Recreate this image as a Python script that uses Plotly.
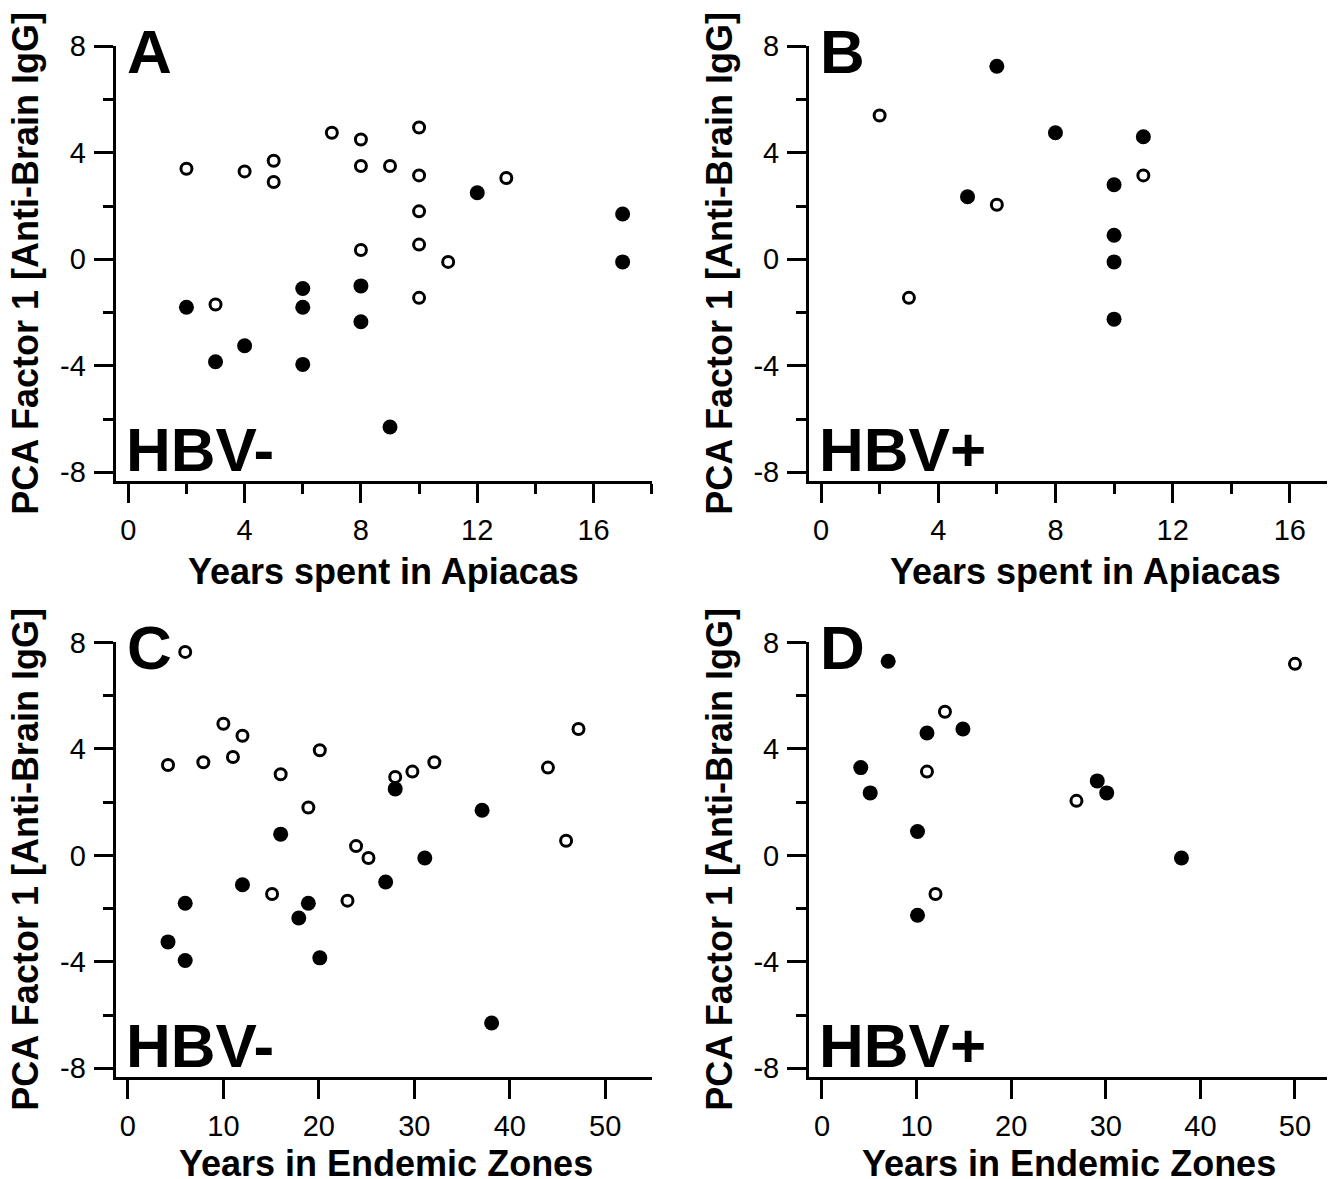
import plotly.graph_objects as go

# The page puts the figure 8 px in from the top-left corner (default body margin),
# so the figure is sized to end exactly at the window edge.
WIN_W, WIN_H = 1335, 1179
OFF = 8
W, H = WIN_W - OFF, WIN_H - OFF

# ---------------- data ----------------
# Panel A: HBV-, Years spent in Apiacas
a_open_x = [2, 4, 5, 5, 7, 8, 8, 9, 10, 10, 13, 10, 8, 10, 11, 10, 3]
a_open_y = [3.4, 3.3, 3.7, 2.9, 4.75, 4.5, 3.5, 3.5, 4.95, 3.15, 3.05, 1.8, 0.35, 0.55, -0.1, -1.45, -1.7]
a_fill_x = [2, 3, 4, 6, 6, 6, 8, 8, 9, 12, 17, 17]
a_fill_y = [-1.8, -3.85, -3.25, -1.1, -1.8, -3.95, -1.0, -2.35, -6.3, 2.5, 1.7, -0.1]

# Panel B: HBV+, Years spent in Apiacas
b_open_x = [2, 3, 6, 11]
b_open_y = [5.4, -1.45, 2.05, 3.15]
b_fill_x = [6, 5, 8, 11, 10, 10, 10, 10]
b_fill_y = [7.25, 2.35, 4.75, 4.6, 2.8, 0.9, -0.1, -2.25]

# Panel C: HBV-, Years in Endemic Zones
c_open_x = [6, 4.2, 7.9, 10, 12, 11, 20.1, 16, 18.9, 28, 29.8, 32.1, 44, 47.2, 45.9, 23.9, 25.2, 15.1, 23]
c_open_y = [7.65, 3.4, 3.5, 4.95, 4.5, 3.7, 3.95, 3.05, 1.8, 2.95, 3.15, 3.5, 3.3, 4.75, 0.55, 0.35, -0.1, -1.45, -1.7]
c_fill_x = [28, 37.1, 16, 31.1, 27, 12, 6, 18.9, 17.9, 4.2, 6, 20.1, 38.1]
c_fill_y = [2.5, 1.7, 0.8, -0.1, -1.0, -1.1, -1.8, -1.8, -2.35, -3.25, -3.95, -3.85, -6.3]

# Panel D: HBV+, Years in Endemic Zones
d_open_x = [13, 11.1, 12, 26.9, 50]
d_open_y = [5.4, 3.15, -1.45, 2.05, 7.2]
d_fill_x = [7, 11.1, 14.9, 4.1, 5.1, 10.1, 10.1, 29.1, 30.1, 38]
d_fill_y = [7.3, 4.6, 4.75, 3.3, 2.35, 0.9, -2.25, 2.8, 2.35, -0.1]

panel_letters = ["A", "B", "C", "D"]
panel_groups = ["HBV-", "HBV+", "HBV-", "HBV+"]
x_titles = ["Years spent in Apiacas", "Years spent in Apiacas",
            "Years in Endemic Zones", "Years in Endemic Zones"]
y_title = "PCA Factor 1 [Anti-Brain IgG]"
y_ticks = [-8, -4, 0, 4, 8]

# ---------------- layout helpers (screen pixels -> paper) ----------------
def px(x):
    return (x - OFF) / W

def py(y):
    return 1 - (y - OFF) / H

FONT = "Liberation Sans, Arial, Helvetica, sans-serif"

# pixel boxes on screen: (left, right, top, bottom) and axis ranges
panels = [
    dict(box=(115.7, 652, 46, 481.3), xr=[-0.433, 18.01], dtick=4, minor=2, title_dy=90),
    dict(box=(809, 1335, 46, 481.3), xr=[-0.41, 17.54], dtick=4, minor=2, title_dy=90),
    dict(box=(115.7, 652, 642.3, 1077.3), xr=[-1.28, 54.9], dtick=10, minor=None, title_dy=86),
    dict(box=(809, 1335, 642.3, 1077.3), xr=[-1.37, 54.23], dtick=10, minor=None, title_dy=86),
]
yr = [-8.34, 8.01]

data_sets = [
    (a_open_x, a_open_y, a_fill_x, a_fill_y),
    (b_open_x, b_open_y, b_fill_x, b_fill_y),
    (c_open_x, c_open_y, c_fill_x, c_fill_y),
    (d_open_x, d_open_y, d_fill_x, d_fill_y),
]

fig = go.Figure()
layout = dict(
    template="none",
    width=W, height=H, autosize=False,
    margin=dict(l=0, r=0, t=0, b=0, pad=0),
    paper_bgcolor="white", plot_bgcolor="white",
    showlegend=False,
    font=dict(family=FONT, color="black"),
)
annotations = []

for i, (p, ds) in enumerate(zip(panels, data_sets)):
    n = "" if i == 0 else str(i + 1)
    xa, ya = "x" + n, "y" + n
    l, r, t, b = p["box"]
    axis_common = dict(
        showline=True, linewidth=3, linecolor="black",
        ticks="outside", ticklen=19, tickwidth=3, tickcolor="black",
        showgrid=False, zeroline=False, fixedrange=True, automargin=False,
        tickfont=dict(family=FONT, size=29, color="black"),
    )
    xaxis = dict(axis_common, domain=[px(l), min(1.0, px(r))], range=p["xr"], anchor=ya,
                 tickmode="linear", tick0=0, dtick=p["dtick"], ticklabelstandoff=2)
    if p["minor"]:
        xaxis["minor"] = dict(dtick=p["minor"], tick0=0, ticks="outside", ticklen=10,
                              tickwidth=3, tickcolor="black", showgrid=False)
    yaxis = dict(axis_common, domain=[py(b), py(t)], range=yr, anchor=xa,
                 tickmode="array", tickvals=y_ticks, ticktext=[str(v) for v in y_ticks],
                 ticklabelstandoff=2,
                 minor=dict(dtick=2, tick0=0, ticks="outside", ticklen=10,
                            tickwidth=3, tickcolor="black", showgrid=False))
    layout["xaxis" + n] = xaxis
    layout["yaxis" + n] = yaxis

    ox, oy, fx, fy = ds
    fig.add_trace(go.Scatter(x=ox, y=oy, mode="markers", xaxis=xa, yaxis=ya,
                             marker=dict(symbol="circle-open", size=11, color="black",
                                         line=dict(width=3, color="black")),
                             cliponaxis=False, hoverinfo="x+y"))
    fig.add_trace(go.Scatter(x=fx, y=fy, mode="markers", xaxis=xa, yaxis=ya,
                             marker=dict(symbol="circle", size=15, color="black",
                                         line=dict(width=0)),
                             cliponaxis=False, hoverinfo="x+y"))

    # panel letter and group label
    annotations.append(dict(text="<b>%s</b>" % panel_letters[i], xref="paper", yref="paper",
                            x=px(l + 9), y=py(t + 5), xanchor="left", yanchor="middle",
                            showarrow=False, font=dict(family=FONT, size=62, color="black")))
    annotations.append(dict(text="<b>%s</b>" % panel_groups[i], xref="paper", yref="paper",
                            x=px(l + 8), y=py(b - 32), xanchor="left", yanchor="middle",
                            showarrow=False, font=dict(family=FONT, size=62, color="black")))
    # axis titles
    xt_center = [383, 1085, 386, 1069][i]
    annotations.append(dict(text="<b>%s</b>" % x_titles[i], xref="paper", yref="paper",
                            x=px(xt_center), y=py(b + p["title_dy"]), xanchor="center",
                            yanchor="middle", borderpad=0,
                            showarrow=False, font=dict(family=FONT, size=36, color="black")))
    yt_x = [26, 720, 26, 720][i]
    annotations.append(dict(text="<b>%s</b>" % y_title, xref="paper", yref="paper",
                            x=px(yt_x), y=py((t + b) / 2), xanchor="center", yanchor="middle",
                            textangle=-90, showarrow=False, borderpad=0,
                            font=dict(family=FONT, size=36, color="black")))

layout["annotations"] = annotations
fig.update_layout(**layout)
fig.write_html("out.html")
